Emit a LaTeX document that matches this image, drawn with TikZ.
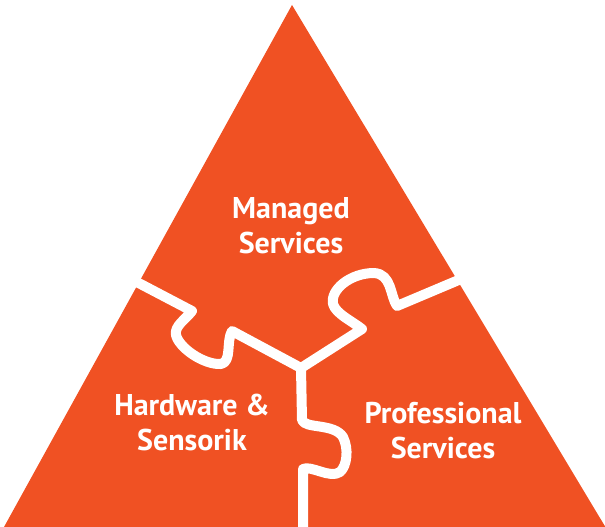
\documentclass[tikz,border=0pt]{standalone}
\usepackage{fontspec}
\setmainfont{PT Sans}
\usepackage{tikz}
\usetikzlibrary{calc}
\definecolor{PuzzleOrange}{RGB}{240,81,35}
\tikzset{
  piece/.style={fill=PuzzleOrange, draw=none},
  cut/.style={draw=white, line width=10pt, line join=round, line cap=round},
  piecetext/.style={white, font=\bfseries\fontsize{30}{35}\selectfont, align=center, anchor=base}
}
\begin{document}
\begin{tikzpicture}[x=1pt, y=-1pt]
  \useasboundingbox (0,0) rectangle (605,527);
  \coordinate (T) at (292,5);
  \coordinate (L) at (4,527);
  \coordinate (R) at (606,528);
  \fill[piece] (T)--(R)--(L)--cycle;

  % where the three cuts meet
  \coordinate (hub) at (301,368);

  % Left cut
  \coordinate (lin) at (110,268);
  \coordinate (lk) at (192,311);
  \draw[cut] (lin) -- (lk)
    .. controls (186,319) and (174,326) .. (176,335)
    .. controls (179,348) and (204,365) .. (221,364)
    .. controls (232,362) and (226,341) .. (232,331)
    -- (hub);

  % Right cut
  \coordinate (rin) at (480,271);
  \coordinate (rk) at (362,329);
  \draw[cut] (hub) -- (rk)
    .. controls (352,321) and (336,314) .. (333,304)
    .. controls (330,290) and (350,273) .. (374,273)
    .. controls (392,274) and (390,296) .. (397,306)
    -- (rin);

  % Vertical cut
  \coordinate (vout) at (303,535);
  \draw[cut] (hub) -- (302,420)
    .. controls (305,429) and (334,423) .. (343,437)
    .. controls (349,449) and (347,466) .. (340,472)
    .. controls (330,479) and (311,465) .. (303,469)
    -- (vout);

  % labels (base = last line)
  \node[piecetext] (managed) at (291,253) {Managed\\Services};
  \node[piecetext] (hardware) at (192,450) {Hardware \&\\Sensorik};
  \node[piecetext] (professional) at (443,458) {Professional\\Services};
\end{tikzpicture}
\end{document}
